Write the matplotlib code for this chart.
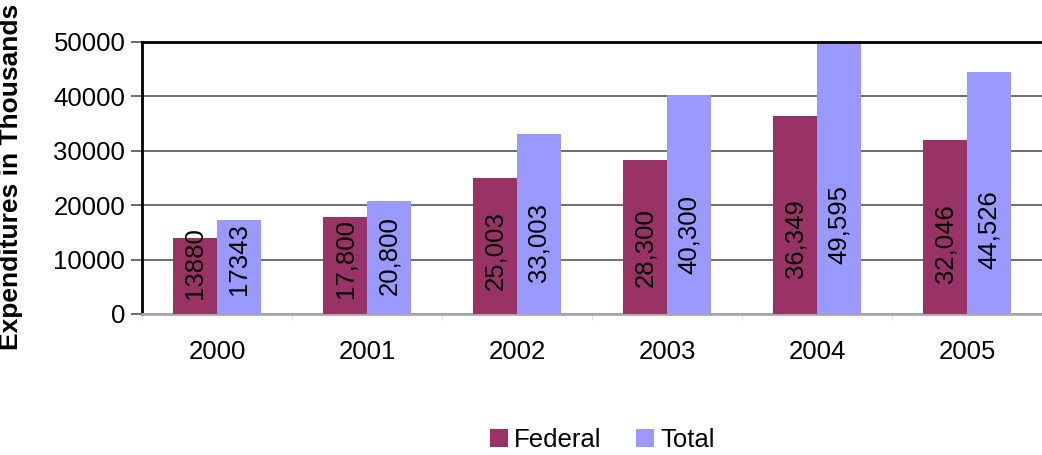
import numpy as np
import matplotlib.pyplot as plt

plt.rcParams['font.family'] = ['Liberation Sans', 'DejaVu Sans']

years = ['2000', '2001', '2002', '2003', '2004', '2005']
federal = [13880, 17800, 25003, 28300, 36349, 32046]
total = [17343, 20800, 33003, 40300, 49595, 44526]
federal_lbl = ['13880', '17,800', '25,003', '28,300', '36,349', '32,046']
total_lbl = ['17343', '20,800', '33,003', '40,300', '49,595', '44,526']

fig = plt.figure(figsize=(10.42, 4.55), dpi=100)
ax = fig.add_axes([0.1363, 0.3099, 0.8637, 0.5978])

x = np.arange(len(years))
w = 0.293
b1 = ax.bar(x - w/2, federal, w, color='#993366', label='Federal', zorder=3)
b2 = ax.bar(x + w/2, total, w, color='#9999FF', label='Total', zorder=3)

# value labels, rotated inside bars
for xs, vals, lbls in ((x - w/2, federal, federal_lbl), (x + w/2, total, total_lbl)):
    for xi, v, s in zip(xs, vals, lbls):
        ax.text(xi, 0.2*v + 6600, s, rotation=90, ha='center', va='center',
                fontsize=18.5, color='black', zorder=4)

ax.set_xlim(-0.5, 5.5)
ax.set_ylim(0, 50000)
ax.set_yticks(np.arange(0, 50001, 10000))
ax.set_yticklabels([str(v) for v in range(0, 50001, 10000)])
ax.set_xticks(x)
ax.set_xticklabels(years)
ax.set_xticks(np.arange(-0.5, 6, 1), minor=True)

ax.yaxis.grid(True, color='#555555', linewidth=1.2, zorder=0)
ax.tick_params(axis='y', labelsize=18.5, length=8, width=1.2, color='#555555', pad=4)
ax.tick_params(axis='x', which='major', labelsize=18.5, length=0, pad=19)
ax.tick_params(axis='x', which='minor', length=4, color='#dddddd')

for side in ('left', 'top'):
    ax.spines[side].set_color('black')
    ax.spines[side].set_linewidth(2)
ax.spines['right'].set_visible(False)
ax.spines['bottom'].set_color('#aaaaaa')
ax.spines['bottom'].set_linewidth(2)

ax.set_ylabel('Expenditures in Thousands', fontsize=19, fontweight='bold')
ax.yaxis.set_label_coords(-0.132, 0.505)

fig.legend(handles=[b1, b2], labels=['Federal', 'Total'], loc='center',
           bbox_to_anchor=(0.578, 0.033), ncol=2, frameon=False, fontsize=18.5,
           handlelength=0.7, handleheight=0.7, handletextpad=0.25, columnspacing=1.35)

fig.savefig('out.png', dpi=100)
